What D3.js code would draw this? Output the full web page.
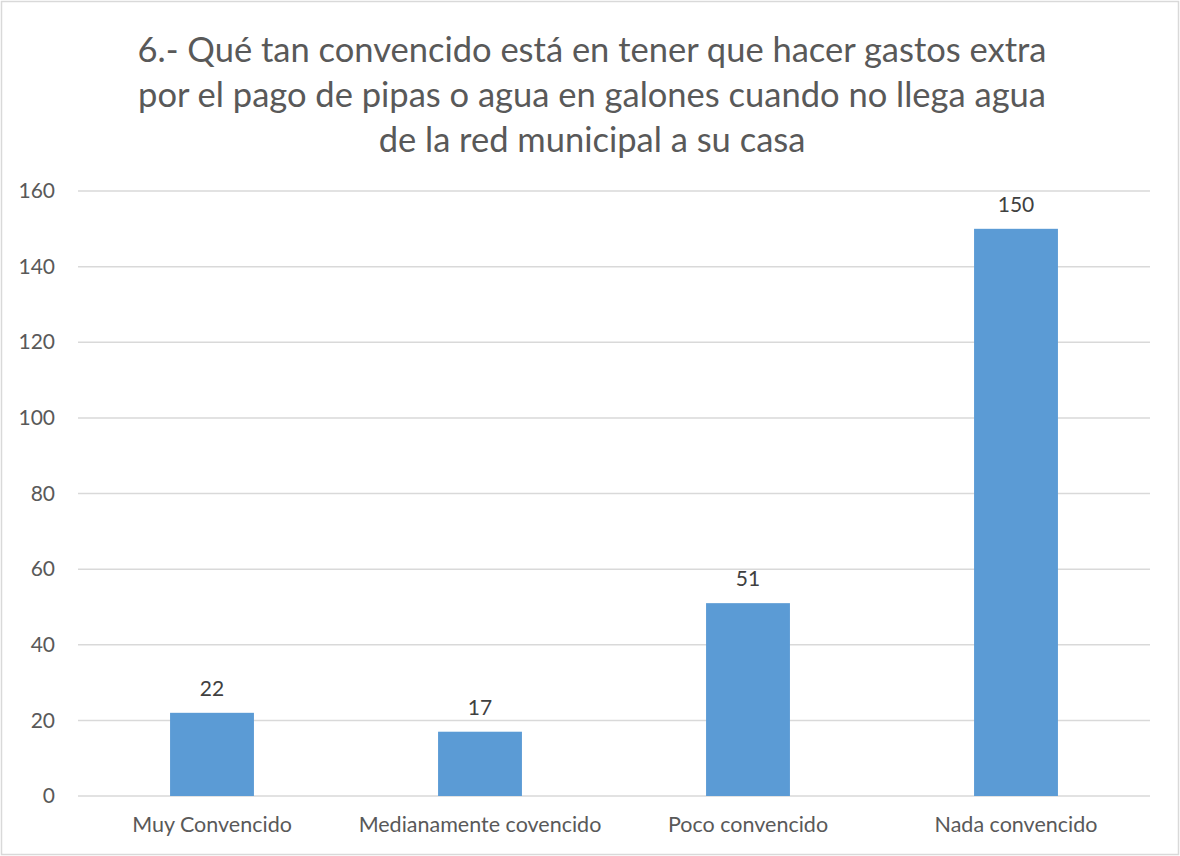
<!DOCTYPE html>
<html>
<head>
<meta charset="utf-8">
<script src="https://cdn.jsdelivr.net/npm/d3@7"></script>
<style>
  body { margin: 0; background: #fff; }
</style>
</head>
<body>
<div id="chart"></div>
<script>
const categories = ["Muy Convencido", "Medianamente covencido", "Poco convencido", "Nada convencido"]
const values = [22, 17, 51, 150]
const yTicks = [0, 20, 40, 60, 80, 100, 120, 140, 160]
const titleLines = [
    "6.- Qué tan convencido está en tener que hacer gastos extra",
    "por el pago de pipas o agua en galones cuando no llega agua",
    "de la red municipal a su casa"
]

const W = 1180, H = 856
const margin = { top: 191, right: 30, bottom: 60, left: 78 }
const width = W - margin.left - margin.right
const height = H - margin.top - margin.bottom
const font = "Lato, 'Open Sans', sans-serif"
const textColor = "#595959"

const svg = d3.select("#chart")
    .append("svg")
    .attr("width", W)
    .attr("height", H)

// outer border
svg.append("rect")
    .attr("x", 1.5).attr("y", 1.5)
    .attr("width", W - 3).attr("height", H - 3)
    .attr("fill", "#fff")
    .attr("stroke", "#d9d9d9")
    .attr("stroke-width", 1.5)

// title
svg.append("g")
    .selectAll("text")
    .data(titleLines)
    .enter()
    .append("text")
    .attr("x", W / 2 + 2)
    .attr("y", (d, i) => 62 + i * 45)
    .attr("text-anchor", "middle")
    .attr("font-family", font)
    .attr("font-size", 34.5)
    .style("fill", textColor)
    .text(d => d)

const g = svg.append("g")
    .attr("transform", "translate(" + margin.left + "," + margin.top + ")")

let x = d3.scaleBand()
    .domain(categories)
    .range([0, width])
    .padding(0)

let y = d3.scaleLinear()
    .domain([0, 160])
    .range([height, 0])

// gridlines
g.append("g")
    .selectAll("line")
    .data(yTicks)
    .enter()
    .append("line")
    .attr("x1", 0)
    .attr("x2", width)
    .attr("y1", d => y(d))
    .attr("y2", d => y(d))
    .attr("stroke", "#d9d9d9")
    .attr("stroke-width", 1.5)

// y axis labels
let yAxis = d3.axisLeft(y).tickValues(yTicks).tickSize(0).tickPadding(23)
const yG = g.append("g").call(yAxis)
yG.select(".domain").remove()
yG.selectAll(".tick text")
    .attr("font-family", font)
    .attr("font-size", 21)
    .style("fill", textColor)

// x axis labels
let xAxis = d3.axisBottom(x).tickSize(0).tickPadding(21)
const xG = g.append("g")
    .attr("transform", "translate(0," + height + ")")
    .call(xAxis)
xG.select(".domain").remove()
xG.selectAll(".tick text")
    .attr("font-family", font)
    .attr("font-size", 21.5)
    .style("fill", textColor)

// bars
const barW = x.bandwidth() * 0.313
g.append("g")
    .selectAll("rect")
    .data(values)
    .enter()
    .append("rect")
    .attr("x", (d, i) => x(categories[i]) + x.bandwidth() / 2 - barW / 2)
    .attr("y", d => y(d))
    .attr("width", barW)
    .attr("height", d => height - y(d))
    .style("fill", "#5b9bd5")

// value labels
g.append("g")
    .selectAll("text")
    .data(values)
    .enter()
    .append("text")
    .attr("x", (d, i) => x(categories[i]) + x.bandwidth() / 2)
    .attr("y", d => y(d) - 17)
    .attr("text-anchor", "middle")
    .attr("font-family", font)
    .attr("font-size", 21)
    .style("fill", "#404040")
    .text(d => d)
</script>
</body>
</html>
